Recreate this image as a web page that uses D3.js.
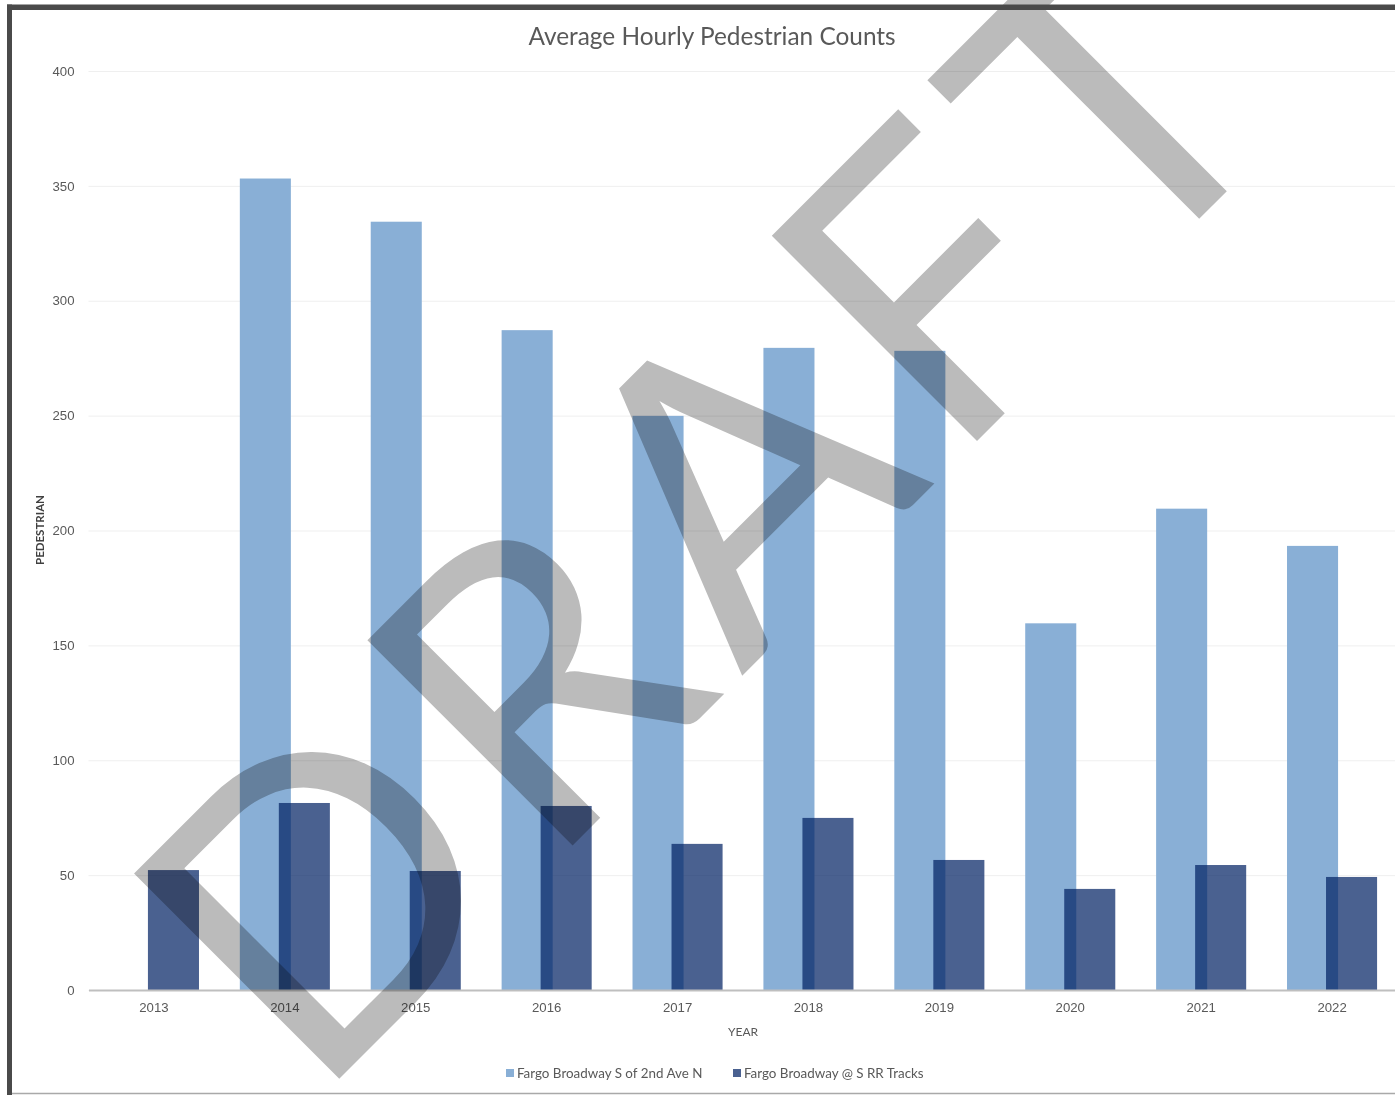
<!DOCTYPE html>
<html>
<head>
<meta charset="utf-8">
<script src="https://cdn.jsdelivr.net/npm/d3@7"></script>
<style>
  body { margin: 0; background: #fff; }
  svg { display: block; font-family: Lato, "Open Sans", sans-serif; }
  .tick text { fill: #595959; font-size: 13.2px; }
  .watermark { mix-blend-mode: multiply; }
</style>
</head>
<body>
<svg id="chart" width="1395" height="1095"></svg>
<script>
// chart data
var years = ["2013", "2014", "2015", "2016", "2017", "2018", "2019", "2020", "2021", "2022"];
var broadway2nd = [0, 353.2, 334.4, 287.2, 249.9, 279.5, 278.2, 159.6, 209.5, 193.3];
var broadwayRR = [52.2, 81.4, 51.8, 80.1, 63.6, 74.9, 56.6, 44.0, 54.4, 49.2];
var yTicks = [0, 50, 100, 150, 200, 250, 300, 350, 400];
var seriesNames = ["Fargo Broadway S of 2nd Ave N", "Fargo Broadway @ S RR Tracks"];
var seriesColors = ["#89afd6", "rgba(0,32,99,0.71)"];
var legendColors = ["#89afd6", "#4a6190"];

var svg = d3.select("#chart");
// note: "top" is taken by window.top, so use plot* names
var plotLeft = 88.5, plotRight = 1397.5, plotTop = 71, plotBottom = 990;

var x = d3.scaleBand().domain(years).range([plotLeft, plotRight]);
var y = d3.scaleLinear().domain([0, 400]).range([plotBottom, plotTop]);
var bw = x.bandwidth();
var barW = bw * 0.39;
var overlap = bw * 0.092;

// gridlines + y labels
var yAxis = d3.axisLeft(y)
  .tickValues(yTicks)
  .tickSize(-(plotRight - plotLeft))
  .tickPadding(14);
var gy = svg.append("g")
  .attr("transform", "translate(" + plotLeft + ",0)")
  .call(yAxis);
gy.select(".domain").remove();
gy.selectAll(".tick line").attr("stroke", "#efefef").attr("stroke-width", 1);

// bars, light series first
svg.append("g").selectAll("rect")
  .data(broadway2nd)
  .join("rect")
  .attr("x", function (d, i) { return x(years[i]) + bw / 2 + overlap / 2 - barW; })
  .attr("y", function (d) { return y(d); })
  .attr("width", barW)
  .attr("height", function (d) { return y(0) - y(d); })
  .attr("fill", seriesColors[0]);

svg.append("g").selectAll("rect")
  .data(broadwayRR)
  .join("rect")
  .attr("x", function (d, i) { return x(years[i]) + bw / 2 - overlap / 2; })
  .attr("y", function (d) { return y(d); })
  .attr("width", barW)
  .attr("height", function (d) { return y(0) - y(d); })
  .attr("fill", seriesColors[1]);

// x axis
var xAxis = d3.axisBottom(x).tickSize(0).tickPadding(13);
var gx = svg.append("g")
  .attr("transform", "translate(0," + plotBottom + ")")
  .call(xAxis);
gx.select(".domain").attr("stroke", "#bfbfbf").attr("stroke-width", 2);

// titles
svg.append("text")
  .attr("x", 712).attr("y", 45)
  .attr("text-anchor", "middle")
  .attr("fill", "#595959")
  .attr("font-size", 24.4)
  .text("Average Hourly Pedestrian Counts");

svg.append("text")
  .attr("x", 743).attr("y", 1036)
  .attr("text-anchor", "middle")
  .attr("fill", "#595959")
  .attr("font-size", 12)
  .text("YEAR");

svg.append("text")
  .attr("transform", "translate(44,530) rotate(-90)")
  .attr("text-anchor", "middle")
  .attr("fill", "#404040")
  .attr("font-size", 11.5)
  .attr("font-weight", "bold")
  .text("PEDESTRIAN");

// legend
var legendX = [506, 733];
var lg = svg.append("g").selectAll("g")
  .data(seriesNames)
  .join("g")
  .attr("transform", function (d, i) { return "translate(" + legendX[i] + ",1069)"; });
lg.append("rect")
  .attr("width", 8).attr("height", 8)
  .attr("fill", function (d, i) { return legendColors[i]; });
lg.append("text")
  .attr("x", 11).attr("y", 9)
  .attr("fill", "#595959")
  .attr("font-size", 13.4)
  .text(function (d) { return d; });

// DRAFT watermark
svg.append("text")
  .attr("class", "watermark")
  .attr("transform", "translate(813,605) rotate(-45)")
  .attr("text-anchor", "middle")
  .attr("fill", "#bbbbbb")
  .attr("font-size", 405)
  .attr("letter-spacing", 22)
  .text("DRAFT");

// frame
svg.append("line").attr("x1", 12).attr("x2", 1395).attr("y1", 1093.5).attr("y2", 1093.5)
  .attr("stroke", "#a9a9a9").attr("stroke-width", 1.5);
svg.append("rect").attr("x", 7).attr("y", 4.5).attr("width", 1388).attr("height", 5.5).attr("fill", "#4a4a4a");
svg.append("rect").attr("x", 7).attr("y", 4.5).attr("width", 5).attr("height", 1091).attr("fill", "#4a4a4a");
</script>
</body>
</html>
